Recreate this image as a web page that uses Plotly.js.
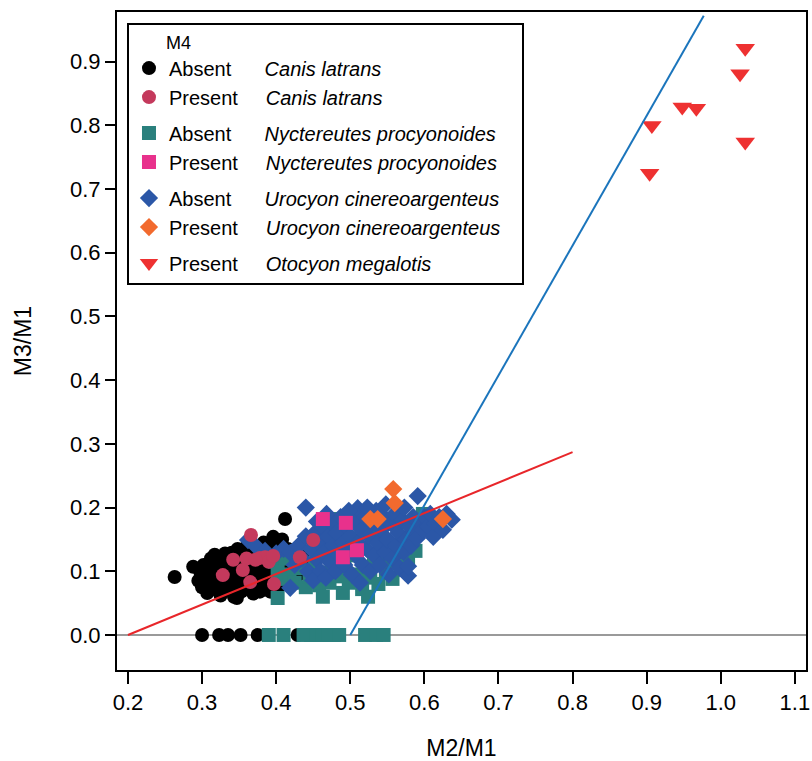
<!DOCTYPE html>
<html>
<head>
<meta charset="utf-8">
<script src="https://cdn.plot.ly/plotly-3.0.1.min.js"></script>
<style>html,body{margin:0;padding:0;background:#fff;}#chart{width:812px;height:761px;}</style>
</head>
<body>
<div id="chart"></div>
<script>
// ---- Data ----
var canisAbsentX = [0.263,0.288,0.295,0.298,0.300,0.302,0.305,0.308,0.310,0.312,0.313,0.316,0.318,0.320,0.322,0.324,0.325,0.327,0.330,0.331,0.333,0.335,0.336,0.338,0.340,0.341,0.343,0.345,0.346,0.348,0.350,0.351,0.353,0.355,0.356,0.358,0.360,0.361,0.362,0.364,0.366,0.367,0.369,0.370,0.372,0.373,0.375,0.376,0.378,0.380,0.381,0.383,0.384,0.386,0.388,0.389,0.391,0.392,0.394,0.395,0.397,0.398,0.400,0.401,0.403,0.405,0.406,0.408,0.409,0.411,0.412,0.414,0.416,0.418,0.420,0.422,0.424,0.426,0.428,0.430,0.433,0.436,0.440,0.412,0.317,0.340,0.396,0.307,0.347,0.378,0.300,0.323,0.335,0.352,0.375,0.429];
var canisAbsentY = [0.091,0.107,0.085,0.097,0.075,0.110,0.088,0.068,0.100,0.120,0.080,0.092,0.072,0.105,0.085,0.115,0.062,0.097,0.078,0.128,0.090,0.108,0.070,0.118,0.083,0.098,0.060,0.112,0.075,0.135,0.090,0.102,0.068,0.120,0.082,0.095,0.110,0.140,0.072,0.088,0.125,0.100,0.065,0.115,0.080,0.132,0.095,0.108,0.070,0.122,0.088,0.145,0.100,0.078,0.115,0.130,0.092,0.068,0.105,0.125,0.082,0.138,0.098,0.112,0.075,0.128,0.090,0.150,0.105,0.082,0.118,0.095,0.135,0.110,0.087,0.125,0.100,0.115,0.092,0.130,0.108,0.120,0.100,0.182,0.126,0.129,0.154,0.066,0.058,0.068,0,0,0,0,0,0];

var canisPresentX = [0.366,0.328,0.342,0.360,0.355,0.378,0.385,0.390,0.365,0.397,0.396,0.432,0.450,0.372];
var canisPresentY = [0.157,0.094,0.118,0.120,0.102,0.121,0.122,0.115,0.083,0.080,0.124,0.122,0.149,0.118];

var nyctAbsentX = [0.398,0.402,0.402,0.408,0.413,0.418,0.425,0.432,0.440,0.445,0.452,0.458,0.463,0.466,0.472,0.473,0.478,0.483,0.490,0.492,0.498,0.505,0.510,0.516,0.524,0.527,0.532,0.538,0.543,0.548,0.553,0.557,0.562,0.568,0.574,0.578,0.583,0.588,0.598,0.485,0.515,0.450,0.530,0.390,0.410,0.437,0.447,0.455,0.462,0.470,0.478,0.485,0.520,0.535,0.545];
var nyctAbsentY = [0.115,0.100,0.058,0.088,0.120,0.095,0.082,0.105,0.075,0.092,0.112,0.078,0.060,0.098,0.082,0.182,0.118,0.092,0.066,0.108,0.082,0.125,0.095,0.072,0.060,0.090,0.112,0.080,0.128,0.098,0.115,0.088,0.130,0.108,0.145,0.122,0.155,0.132,0.190,0.165,0.170,0.150,0.155,0,0,0,0,0,0,0,0,0,0,0,0];

var nyctPresentX = [0.463,0.494,0.490,0.509];
var nyctPresentY = [0.182,0.176,0.122,0.133];

var uroAbsentX = [0.362,0.372,0.385,0.400,0.410,0.419,0.419,0.425,0.430,0.435,0.440,0.440,0.443,0.447,0.450,0.452,0.455,0.458,0.460,0.462,0.465,0.467,0.470,0.472,0.475,0.477,0.480,0.482,0.485,0.487,0.490,0.492,0.495,0.497,0.500,0.502,0.505,0.507,0.510,0.510,0.513,0.515,0.517,0.520,0.522,0.525,0.527,0.530,0.532,0.535,0.537,0.540,0.542,0.545,0.547,0.550,0.552,0.555,0.557,0.560,0.562,0.565,0.567,0.570,0.572,0.575,0.578,0.578,0.580,0.582,0.585,0.588,0.590,0.591,0.595,0.598,0.600,0.605,0.608,0.612,0.615,0.620,0.625,0.630,0.637,0.455,0.468,0.498,0.523,0.548,0.573];
var uroAbsentY = [0.149,0.140,0.132,0.128,0.135,0.129,0.074,0.110,0.140,0.120,0.200,0.155,0.100,0.135,0.086,0.160,0.118,0.145,0.100,0.170,0.130,0.090,0.155,0.115,0.175,0.140,0.100,0.160,0.125,0.185,0.145,0.110,0.170,0.135,0.155,0.095,0.180,0.125,0.199,0.145,0.082,0.165,0.110,0.185,0.135,0.155,0.100,0.175,0.125,0.195,0.145,0.110,0.165,0.185,0.130,0.150,0.095,0.175,0.120,0.190,0.140,0.160,0.105,0.180,0.130,0.150,0.093,0.108,0.170,0.140,0.185,0.160,0.152,0.218,0.175,0.165,0.185,0.170,0.190,0.154,0.175,0.185,0.165,0.190,0.181,0.178,0.190,0.195,0.200,0.205,0.200];

var uroPresentX = [0.558,0.560,0.527,0.537,0.625];
var uroPresentY = [0.229,0.207,0.182,0.182,0.182];

var otoPresentX = [1.033,1.026,0.948,0.967,0.907,1.033,0.904];
var otoPresentY = [0.921,0.881,0.829,0.827,0.800,0.774,0.725];

var redLineX = [0.2, 0.8];
var redLineY = [0.0, 0.287];
var blueLineX = [0.5, 0.977];
var blueLineY = [0.0, 0.972];

var xTicks = [0.2,0.3,0.4,0.5,0.6,0.7,0.8,0.9,1.0,1.1];
var yTicks = [0.0,0.1,0.2,0.3,0.4,0.5,0.6,0.7,0.8,0.9];

var NB = '\u00A0';
function rep(n){ return new Array(n+1).join(NB); }
function label(status, species, tail){
  return status + (status === 'Absent' ? rep(6) : rep(5)) + '<i>' + species + '</i>' + rep(tail || 0);
}

function pts(x, y, name, symbol, color, size, group, rank){
  return {
    type: 'scatter', mode: 'markers', x: x, y: y, name: name,
    legendgroup: group, legendrank: rank,
    marker: {symbol: symbol, color: color, size: size, line: {width: 0}},
    hoverinfo: 'x+y'
  };
}

var traces = [
  pts(canisAbsentX, canisAbsentY, label('Absent','Canis latrans'), 'circle', '#000000', 14, 'canis', 1),
  pts(nyctAbsentX, nyctAbsentY, label('Absent','Nyctereutes procyonoides'), 'square', '#2A807D', 14, 'nyct', 3),
  pts(uroAbsentX, uroAbsentY, label('Absent','Urocyon cinereoargenteus', 3), 'diamond', '#2B57A7', 14, 'uro', 5),
  pts(canisPresentX, canisPresentY, label('Present','Canis latrans'), 'circle', '#C4395C', 14, 'canis', 2),
  pts(nyctPresentX, nyctPresentY, label('Present','Nyctereutes procyonoides'), 'square', '#E8318C', 14, 'nyct', 4),
  pts(uroPresentX, uroPresentY, label('Present','Urocyon cinereoargenteus', 3), 'diamond', '#F26A2E', 14, 'uro', 6),
  pts(otoPresentX, otoPresentY, label('Present','Otocyon megalotis'), 'triangle-down', '#EE3131', 17, 'oto', 7),
  {type:'scatter', mode:'lines', x: redLineX, y: redLineY, showlegend:false, hoverinfo:'skip',
   line:{color:'#E8262A', width:2}},
  {type:'scatter', mode:'lines', x: blueLineX, y: blueLineY, showlegend:false, hoverinfo:'skip',
   line:{color:'#1B75BC', width:2}}
];

var fontFam = 'Liberation Sans, Arial, Helvetica, sans-serif';

var layout = {
  width: 812, height: 761,
  margin: {l: 117, r: 6, t: 12, b: 91, pad: 0},
  paper_bgcolor: '#ffffff', plot_bgcolor: '#ffffff',
  font: {family: fontFam, color: '#000', size: 20},
  showlegend: true,
  legend: {
    x: 0.0145, y: 0.983, xanchor: 'left', yanchor: 'top',
    bgcolor: '#ffffff', bordercolor: '#000', borderwidth: 2,
    font: {family: fontFam, size: 20, color: '#000'},
    title: {text: rep(7) + 'M4', font: {family: fontFam, size: 18, color: '#000'}},
    traceorder: 'grouped', tracegroupgap: 7, itemclick: false
  },
  xaxis: {
    range: [0.1852, 1.115], tickvals: xTicks, tickformat: '.1f',
    showgrid: false, zeroline: false,
    showline: true, mirror: true, linecolor: '#000', linewidth: 2,
    ticks: 'outside', ticklen: 12, tickwidth: 2, tickcolor: '#000',
    tickfont: {family: fontFam, size: 22, color: '#000'},
    title: {text: 'M2/M1', font: {family: fontFam, size: 23, color: '#000'}, standoff: 30}
  },
  yaxis: {
    range: [-0.055, 0.978], tickvals: yTicks, tickformat: '.1f',
    showgrid: false,
    zeroline: true, zerolinecolor: '#9a9a9a', zerolinewidth: 2,
    showline: true, mirror: true, linecolor: '#000', linewidth: 2,
    ticks: 'outside', ticklen: 10, tickwidth: 2, tickcolor: '#000',
    tickfont: {family: fontFam, size: 22, color: '#000'},
    title: {text: 'M3/M1', font: {family: fontFam, size: 23, color: '#000'}, standoff: 32}
  }
};

Plotly.newPlot('chart', traces, layout, {staticPlot: true, displayModeBar: false});
</script>
</body>
</html>
